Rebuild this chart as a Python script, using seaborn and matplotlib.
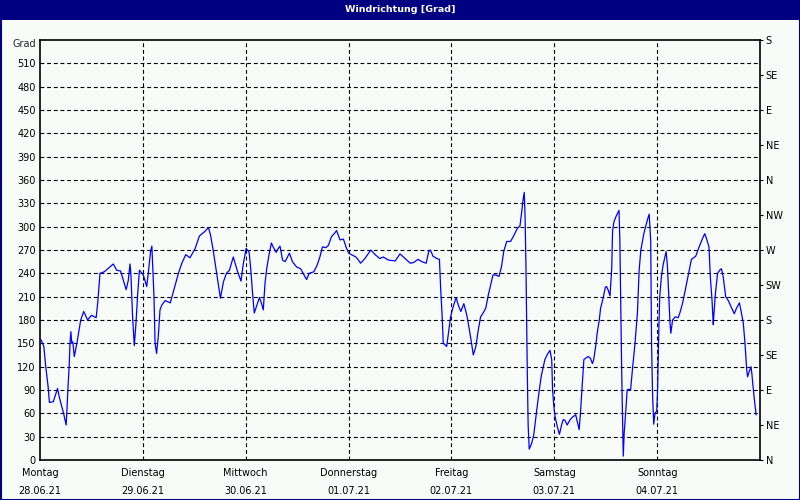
import matplotlib
matplotlib.use("Agg")
import matplotlib.pyplot as plt
import seaborn as sns
import pandas as pd
from matplotlib.patches import Rectangle

# ---- data ----
hours = [0.2, 0.6, 0.9, 1.3, 1.9, 2.2, 3.1, 4.1, 4.5, 5.5, 6.1, 6.25, 6.5, 6.8, 7.0, 7.2, 7.4, 7.65, 8.0, 8.6,
         9.0, 9.5, 10.2, 11.1, 12.0, 13.1, 13.5, 14.0, 15.0, 17.1, 17.9, 18.8, 19.5, 20.1, 20.6, 21.0, 21.2, 21.6,
         22.0, 22.4, 22.8, 23.2, 24.1, 24.9, 25.3, 25.8, 26.1, 26.3, 26.6, 26.85, 27.2, 27.6, 28.0, 28.4, 29.2,
         30.4, 31.1, 32.3, 33.1, 34.0, 35.0, 36.2, 37.2, 38.5, 39.3, 39.8, 40.4, 41.4, 42.1, 42.8, 43.5, 44.2,
         45.1, 46.0, 46.9, 47.4, 48.1, 48.8, 49.2, 49.6, 50.0, 50.6, 51.2, 51.7, 52.1, 52.5, 52.9, 53.5, 54.0,
         54.4, 55.1, 55.6, 56.0, 56.6, 57.2, 58.2, 58.9, 59.9, 60.8, 61.4, 62.2, 62.8, 63.9, 64.7, 65.3, 65.9,
         66.7, 67.3, 68.0, 68.8, 69.2, 70.0, 70.8, 71.4, 72.0, 72.7, 73.7, 74.3, 74.8, 75.8, 77.2, 78.2, 79.3,
         80.1, 81.3, 82.9, 84.0, 85.2, 86.4, 87.2, 88.2, 89.1, 90.1, 90.7, 91.1, 91.7, 92.6, 93.2, 93.5, 93.8,
         94.1, 94.9, 95.2, 95.8, 96.3, 97.1, 97.6, 98.2, 98.9, 99.6, 100.2, 100.7, 101.1, 101.7, 102.2, 102.8,
         103.4, 104.0, 104.6, 105.1, 105.7, 106.3, 107.1, 107.7, 108.2, 108.9, 109.8, 110.6, 111.4, 112.0,
         112.4, 112.75, 113.0, 113.2, 113.4, 113.7, 113.9, 114.15, 114.7, 115.2, 115.9, 116.5, 117.0, 117.8,
         118.4, 119.0, 119.4, 119.6, 119.9, 120.2, 120.7, 121.2, 121.7, 122.1, 122.5, 123.0, 123.6, 124.2,
         125.0, 125.3, 125.8, 126.1, 126.5, 126.9, 127.1, 127.9, 128.4, 128.9, 129.2, 129.7, 130.0, 130.5,
         130.8, 131.4, 131.9, 132.2, 132.6, 133.0, 133.4, 133.6, 133.9, 134.4, 135.1, 135.3, 135.7, 135.9,
         136.1, 136.3, 136.7, 137.0, 137.3, 137.8, 138.3, 138.8, 139.4, 139.8, 140.2, 140.9, 141.4, 141.9,
         142.15, 142.5, 142.7, 142.95, 143.2, 143.5, 143.9, 144.1, 144.4, 144.6, 145.0, 145.4, 145.8, 146.1,
         146.4, 146.7, 147.0, 147.2, 147.6, 148.2, 148.9, 149.3, 149.9, 150.4, 151.2, 152.0, 153.0, 153.8,
         154.6, 155.1, 155.5, 156.1, 156.4, 156.8, 157.1, 157.2, 157.6, 158.1, 158.6, 159.0, 159.4, 160.0,
         160.6, 161.1, 162.0, 162.5, 163.2, 163.6, 164.1, 164.5, 164.9, 165.1, 165.5, 165.9, 166.1, 166.3,
         166.7, 167.1]
grad = [155, 150, 146, 122, 94, 74, 75, 92, 81, 60, 45, 60, 90, 120, 150, 165, 150, 152, 133, 150,
        163, 180, 191, 180, 186, 183, 204, 240, 242, 252, 244, 243, 230, 219, 231, 252, 240, 185,
        147, 176, 214, 244, 238, 223, 242, 268, 275, 248, 210, 150, 137, 159, 193, 199, 205,
        202, 216, 240, 253, 264, 260, 272, 288, 294, 299, 289, 270, 234, 208, 229, 240, 244,
        261, 244, 230, 251, 272, 267, 244, 214, 189, 199, 209, 201, 193, 227, 246, 266, 279,
        274, 267, 272, 275, 257, 255, 266, 255, 248, 246, 240, 232, 240, 242, 251, 261, 274,
        273, 276, 287, 292, 295, 283, 284, 274, 266, 264, 261, 257, 253, 259, 270, 264, 259,
        261, 257, 256, 265, 259, 253, 254, 258, 255, 253, 268, 270, 262, 259, 258, 219, 189,
        150, 146, 159, 184, 195, 209, 199, 191, 201, 186, 167, 150, 135, 146, 165, 184,
        189, 195, 212, 224, 238, 238, 236, 249, 268, 281, 281, 289, 298, 301,
        319, 336, 344, 309, 244, 114, 45, 14, 21, 32, 64, 90, 109, 129,
        136, 141, 129, 90, 69, 55, 43, 33, 45, 52, 51, 45, 51, 55,
        58, 51, 39, 60, 94, 129, 130, 133, 131, 124, 129, 148, 163, 180,
        195, 208, 222, 223, 218, 211, 246, 294, 306, 313, 321, 283, 124, 60,
        5, 34, 64, 90, 91, 90, 120, 148, 189, 244, 270, 291, 302, 312,
        316, 281, 148, 81, 46, 60, 63, 90, 169, 210, 236, 251, 261, 268,
        249, 214, 176, 163, 180, 184, 183, 189, 201, 214, 236, 258, 262, 274,
        285, 291, 285, 274, 236, 206, 174, 184, 214, 240, 244, 246, 236, 210,
        205, 199, 188, 195, 202, 191, 176, 150, 116, 107, 114, 120, 111, 99,
        77, 58]

day_names = ["Montag", "Dienstag", "Mittwoch", "Donnerstag", "Freitag", "Samstag", "Sonntag"]
day_dates = ["28.06.21", "29.06.21", "30.06.21", "01.07.21", "02.07.21", "03.07.21", "04.07.21"]
left_ticks = list(range(0, 511, 30))
right_ticks = list(range(0, 541, 45))
right_labels = ["N", "NE", "E", "SE", "S", "SW", "W", "NW", "N", "NE", "E", "SE", "S"]
title = "Windrichtung [Grad]"
unit = "Grad"

df = pd.DataFrame({"h": hours, "grad": grad})

# ---- style ----
sns.set_style("white")
plt.rcParams["font.family"] = ["DejaVu Sans"]
plt.rcParams["font.size"] = 7

bg = "#F8FCF8"
navy = "#000080"

fig = plt.figure(figsize=(8, 5), dpi=100, facecolor=bg)
ax = fig.add_axes([40 / 800, 40 / 500, 720 / 800, 420 / 500])
ax.set_facecolor(bg)

sns.lineplot(data=df, x="h", y="grad", ax=ax, color="#0000FF", linewidth=0.9,
             estimator=None, sort=False, zorder=3)

ax.set_xlim(0, 168)
ax.set_ylim(0, 540)
ax.set_xlabel("")
ax.set_ylabel("")

ax.set_yticks(left_ticks)
ax.set_yticklabels([str(v) for v in left_ticks])
day_pos = [24 * i for i in range(len(day_names))]
ax.set_xticks(day_pos)
ax.set_xticklabels([f"{n}\n{d}" for n, d in zip(day_names, day_dates)], linespacing=2.0)
ax.tick_params(axis="y", length=0, pad=3, labelsize=7, colors="black")
ax.tick_params(axis="x", length=0, pad=6, labelsize=7, colors="black")

for v in left_ticks[1:]:
    ax.axhline(v, color="black", linewidth=0.8, linestyle=(0, (3.5, 2.5)), zorder=1)
for d in day_pos[1:]:
    ax.axvline(d, color="black", linewidth=0.8, linestyle=(0, (3.5, 2.5)), zorder=1)

for s in ax.spines.values():
    s.set_visible(True)
    s.set_color("black")
    s.set_linewidth(1.2)

ax2 = ax.twinx()
ax2.set_ylim(0, 540)
ax2.set_yticks(right_ticks)
ax2.set_yticklabels(right_labels)
ax2.tick_params(axis="y", direction="out", length=2.5, width=0.8, pad=1.5, labelsize=7, colors="black")
for s in ax2.spines.values():
    s.set_visible(False)

fig.text(36 / 800, 1 - 44 / 500, unit, ha="right", va="center", fontsize=7)

# title bar and frame
fig.patches.append(Rectangle((0, 1 - 20 / 500), 1, 20 / 500, transform=fig.transFigure,
                             facecolor=navy, edgecolor="none", zorder=0))
fig.text(0.5, 1 - 9.5 / 500, title, ha="center", va="center", color="white",
         fontsize=6.8, fontweight="bold")
fig.patches.append(Rectangle((0.5 / 800, 0.5 / 500), 799 / 800, 499 / 500, transform=fig.transFigure,
                             facecolor="none", edgecolor=navy, linewidth=1.5, zorder=5))

fig.savefig("out.png", dpi=100, facecolor=bg)
